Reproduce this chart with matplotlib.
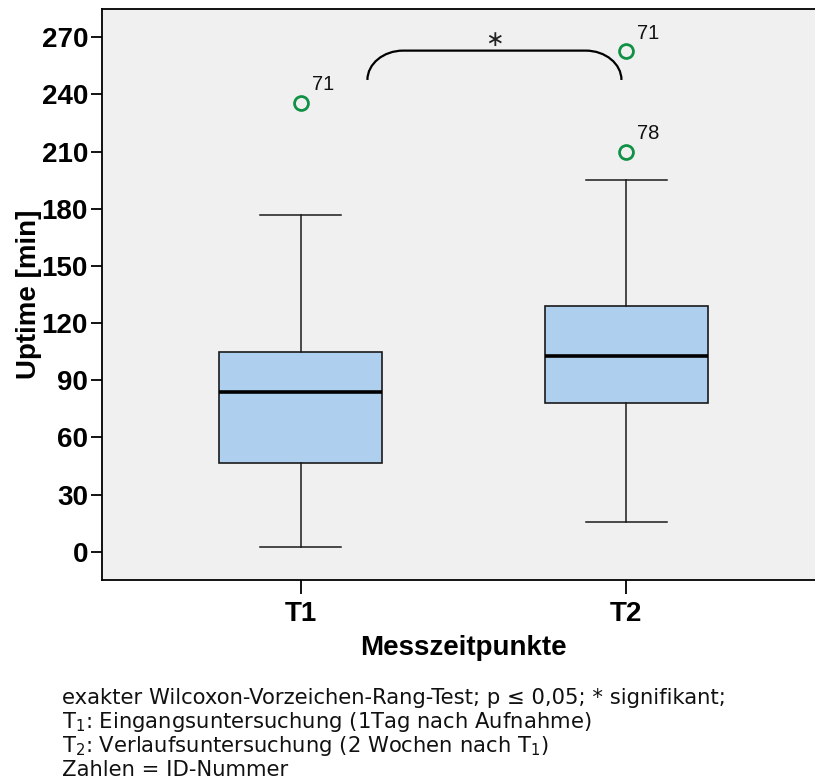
import matplotlib
matplotlib.use("Agg")
import matplotlib.pyplot as plt
from matplotlib.path import Path
from matplotlib.patches import PathPatch

plt.rcParams['font.family'] = ['Liberation Sans', 'DejaVu Sans']
plt.rcParams['mathtext.fontset'] = 'custom'
plt.rcParams['mathtext.rm'] = 'DejaVu Sans'

# box statistics (minutes)
groups = ['T1', 'T2']
q1 = [46.6, 77.9]
medians = [83.9, 102.6]
q3 = [104.7, 129.2]
whisker_low = [2.6, 15.6]
whisker_high = [176.5, 194.9]
outliers = [[235.7], [262.6, 210.0]]
outlier_ids = [['71'], ['71', '78']]

stats = []
for i, g in enumerate(groups):
    stats.append(dict(label=g, q1=q1[i], med=medians[i], q3=q3[i],
                      whislo=whisker_low[i], whishi=whisker_high[i],
                      fliers=outliers[i]))

fig = plt.figure(figsize=(8.15, 7.82), dpi=100)
# axes runs a little past the right edge, like the original export
ax = fig.add_axes([102 / 815, 1 - 580.3 / 782, 723 / 815, 571.6 / 782])
ax.set_facecolor('#F0F0F0')

positions = [1, 2]
ax.bxp(stats, positions=positions, widths=0.5, patch_artist=True,
       boxprops=dict(facecolor='#AED0EE', edgecolor='#1a1a1a', linewidth=1.2),
       medianprops=dict(color='black', linewidth=2.6),
       whiskerprops=dict(color='#1a1a1a', linewidth=1.1),
       capprops=dict(color='#1a1a1a', linewidth=1.1),
       capwidths=0.25,
       flierprops=dict(marker='o', markerfacecolor='none', markeredgecolor='#119146',
                       markersize=10, markeredgewidth=2))

# outlier ID labels
for pos, vals, ids in zip(positions, outliers, outlier_ids):
    for v, lab in zip(vals, ids):
        ax.annotate(lab, (pos, v), xytext=(8, 6), textcoords='offset points',
                    fontsize=14.5, ha='left', va='bottom', color='#111111')

# significance bracket
x0, x1, yb, yt = 1.205, 1.985, 247.6, 263.0
dx, k = 0.11, 0.5523
verts = [(x0, yb), (x0, yb + k * (yt - yb)), (x0 + (1 - k) * dx, yt), (x0 + dx, yt),
         (x1 - dx, yt),
         (x1 - (1 - k) * dx, yt), (x1, yb + k * (yt - yb)), (x1, yb)]
codes = [Path.MOVETO, Path.CURVE4, Path.CURVE4, Path.CURVE4, Path.LINETO,
         Path.CURVE4, Path.CURVE4, Path.CURVE4]
ax.add_patch(PathPatch(Path(verts, codes), facecolor='none', edgecolor='black', lw=1.6))
ax.text((x0 + x1) / 2, 268.5, '∗', ha='center', va='center', fontsize=16,
        family='DejaVu Sans', color='#222222')

ax.set_xlim(0.39, 2.61)
ax.set_ylim(-15, 285)
ax.set_yticks(range(0, 271, 30))
ax.set_xticks(positions)
ax.set_xticklabels(groups)
for lab in ax.get_xticklabels() + ax.get_yticklabels():
    lab.set_fontweight('bold')
    lab.set_fontsize(20)
ax.tick_params(axis='y', direction='out', length=8, width=1.3, pad=2)
ax.tick_params(axis='x', direction='out', length=10, width=1.3, pad=5)
ax.spines['right'].set_visible(False)
for s in ['left', 'bottom', 'top']:
    ax.spines[s].set_linewidth(1.3)

ax.set_xlabel('Messzeitpunkte', fontsize=20, fontweight='bold', labelpad=6)
ax.set_ylabel('Uptime [min]', fontsize=20, fontweight='bold', labelpad=0)

notes = ['exakter Wilcoxon-Vorzeichen-Rang-Test; p ≤ 0,05; * signifikant;',
         r'$\mathregular{T_1}$: Eingangsuntersuchung (1Tag nach Aufnahme)',
         r'$\mathregular{T_2}$: Verlaufsuntersuchung (2 Wochen nach $\mathregular{T_1}$)',
         'Zahlen = ID-Nummer']
for i, line in enumerate(notes):
    fig.text(62 / 815, 1 - (704 + 24 * i) / 782, line, fontsize=15.2,
             family='DejaVu Sans', ha='left', va='baseline', color='#111111')

fig.savefig('out.png', dpi=100)
